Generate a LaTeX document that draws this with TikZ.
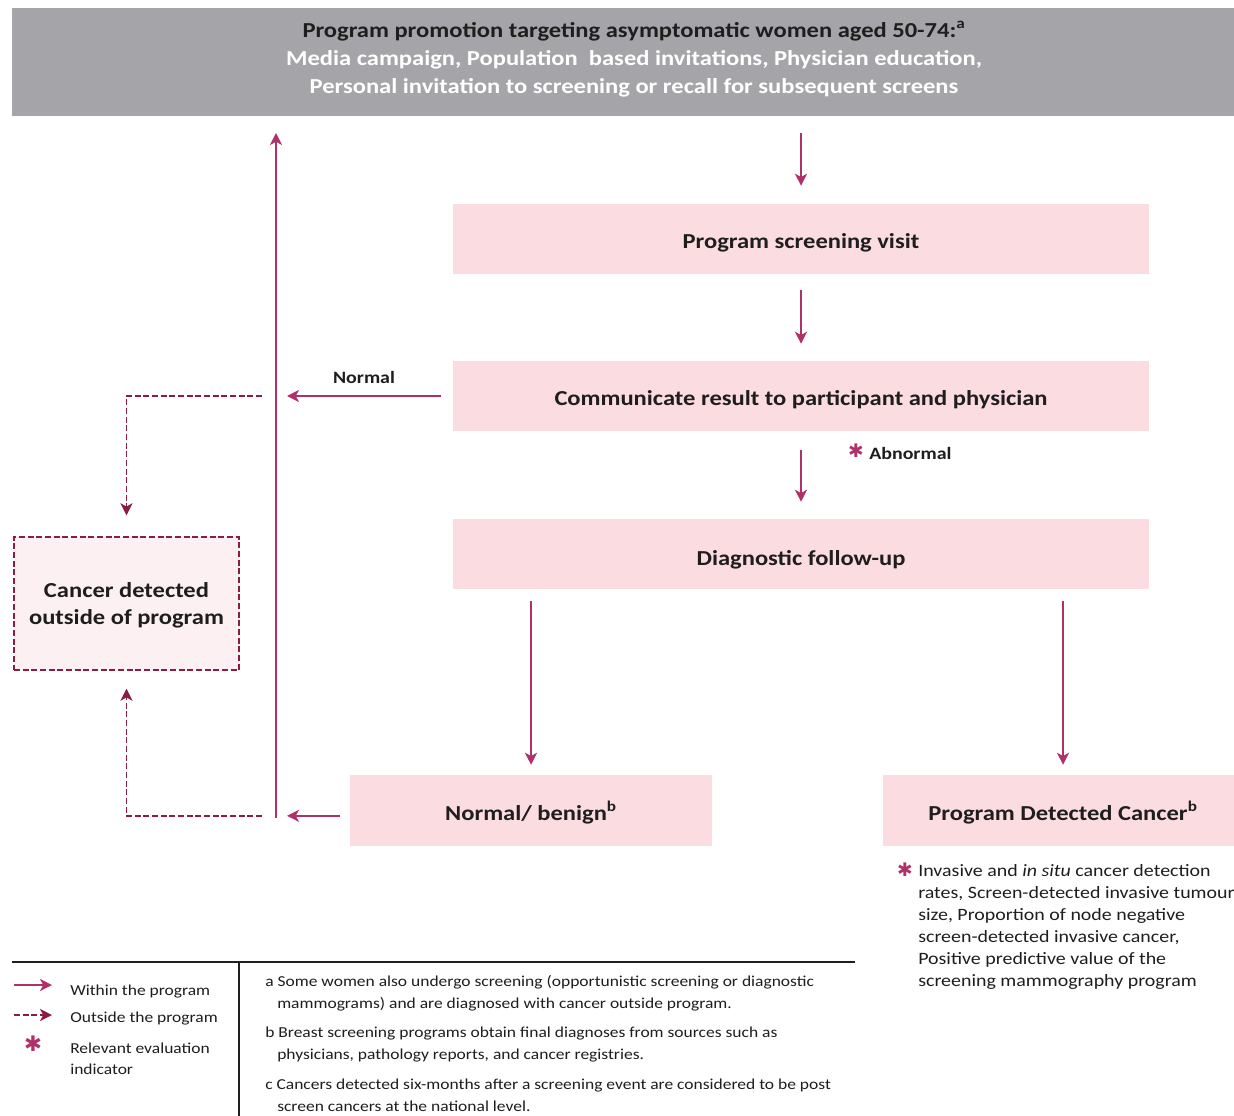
\documentclass[tikz,border=0pt]{standalone}
\usepackage{fontspec}
\setmainfont{Carlito}[FakeStretch=1.15]
\newfontfamily\symfont{DejaVu Sans}
\usetikzlibrary{arrows.meta}
\definecolor{arrc}{HTML}{B0306A}
\definecolor{dashc}{HTML}{8C1C45}
\definecolor{pinkfill}{HTML}{FADCE1}
\definecolor{greyfill}{HTML}{A5A5A9}
\definecolor{palepink}{HTML}{FDF0F3}
\definecolor{txt}{HTML}{1E1E1E}
\begin{document}
\begin{tikzpicture}[x=0.75pt,y=-0.75pt,
  box/.style={draw=none, fill=pinkfill, minimum width=522pt, minimum height=52.5pt, inner sep=0pt,
    font=\fontsize{16}{20}\selectfont\bfseries, text=txt, align=center, text height=14.5pt, text depth=0pt},
  flow/.style={draw=arrc, line width=1.2pt, -{Stealth[length=9pt,width=9pt,inset=2.5pt]}},
  ext/.style={draw=dashc, line width=1.2pt, dash pattern=on 4.5pt off 2pt, -{Stealth[length=9pt,width=9pt,inset=2.5pt]}},
  ast/.style={text=arrc, font=\symfont\fontsize{14}{14}\selectfont, inner sep=0pt},
  note/.style={anchor=west, inner sep=0pt, align=left, text=txt, font=\fontsize{11.4}{16.5}\selectfont},
  lbl/.style={inner sep=0pt, text=txt, font=\fontsize{13}{13}\selectfont\bfseries}
]
\path[use as bounding box] (0,0) rectangle (1234,1116);
\fill[white] (0,0) rectangle (1234,1116);
\clip (0,0) rectangle (1234,1116);

% top banner
\node[fill=greyfill, minimum width=916.5pt, minimum height=81pt, inner sep=0pt] (promo) at (623,62) {};
\node[inner sep=0pt, align=center, font=\fontsize{16}{21}\selectfont\bfseries] (promotext) at (634,59)
  {\textcolor{txt}{Program promotion targeting asymptomatic women aged 50-74:\textsuperscript{a}}\\
   \textcolor{white}{Media campaign, Population\ \ based invitations, Physician education,}\\
   \textcolor{white}{Personal invitation to screening or recall for subsequent screens}};

% main boxes
\node[box] (scr)  at (801,239) {Program screening visit};
\node[box] (comm) at (801,396) {Communicate result to participant and physician};
\node[box, text height=17pt] (diag) at (801,554) {Diagnostic follow-up};
\node[box, minimum width=271.5pt, minimum height=53.25pt] (benign) at (531,810.5) {Normal/ benign\textsuperscript{b}};
\node[box, minimum width=270pt, minimum height=53.25pt] (pdc) at (1063,810.5) {Program Detected Cancer\textsuperscript{b}};
\node[fill=palepink, draw=dashc, line width=1.1pt, dash pattern=on 4.5pt off 2pt, inner sep=0pt, align=center, text=txt,
      minimum width=168.75pt, minimum height=99.75pt, font=\fontsize{16}{20.25}\selectfont\bfseries] (outside) at (126.5,603.5)
  {\rule{0pt}{14pt}Cancer detected\\outside of program};

% flow arrows
\draw[flow, shorten <=12.75pt, shorten >=13.5pt] (promo.south -| scr.north) -- (scr.north);
\draw[flow, shorten <=12pt, shorten >=12.75pt] (scr) -- (comm);
\draw[flow, shorten <=14.25pt, shorten >=12.75pt] (comm) -- (diag);
\draw[flow, shorten <=9pt, shorten >=7.5pt] (diag.south -| benign.north) -- (benign.north);
\draw[flow, shorten <=9pt, shorten >=7.5pt] (diag.south -| pdc.north) -- (pdc.north);

% return line
\coordinate (vbot) at (276,818);
\coordinate (vtop) at (276,133);
\draw[flow] (vbot) -- (vtop);
\draw[flow, shorten <=9pt, shorten >=8.25pt] (comm.west) -- (comm.west -| vtop);
\node[lbl] (normal) at (364,377) {Normal};
\draw[flow, shorten <=7.5pt, shorten >=8.25pt] ([yshift=-4pt]benign.west) -- ([yshift=-4pt]benign.west -| vtop);

% outside-program arrows
\draw[ext, shorten <=10.5pt, shorten >=15.75pt] (comm.west -| vtop) -| (outside.north);
\draw[ext, shorten <=10.5pt, shorten >=13.5pt] ([yshift=-4pt]benign.west -| vtop) -| (outside.south);

% abnormal label
\node[ast] (ast1) at (856,451) {✱};
\node[lbl, anchor=west] (abn) at (869,453) {Abnormal};

% right indicator text
\node[ast] (ast2) at (905,870) {✱};
\node[note, anchor=north west, font=\fontsize{13}{16.5}\selectfont] (ind) at (918,864)
  {Invasive and \textit{in situ} cancer detection\\
   rates, Screen-detected invasive tumour\\
   size, Proportion of node negative\\
   screen-detected invasive cancer,\\
   Positive predictive value of the\\
   screening mammography program};

% footnote area
\draw[line width=1.5pt, draw=txt] (12,962) -- (855,962);
\draw[line width=1.1pt, draw=txt] (239,962) -- (239,1116);

\coordinate (l1a) at (14,985); \coordinate (l1b) at (52,985);
\coordinate (l2a) at (14,1015); \coordinate (l2b) at (52,1015);
\draw[flow] (l1a) -- (l1b);
\draw[ext] (l2a) -- (l2b);
\node[ast, font=\symfont\fontsize{16}{16}\selectfont] (ast3) at (33,1044) {✱};
\node[note] (lg1) at (70,992) {Within the program};
\node[note] (lg2) at (70,1019) {Outside the program};
\node[note, font=\fontsize{11.4}{15.75}\selectfont] (lg3) at (70,1058.5) {Relevant evaluation\\indicator};

\node[note] (na) at (265,993.5) {a Some women also undergo screening (opportunistic screening or diagnostic\\\hspace*{9pt}mammograms) and are diagnosed with cancer outside program.};
\node[note] (nb) at (265,1045) {b Breast screening programs obtain final diagnoses from sources such as\\\hspace*{9pt}physicians, pathology reports, and cancer registries.};
\node[note] (nc) at (265,1095.5) {c Cancers detected six-months after a screening event are considered to be post\\\hspace*{9pt}screen cancers at the national level.};
\end{tikzpicture}
\end{document}
